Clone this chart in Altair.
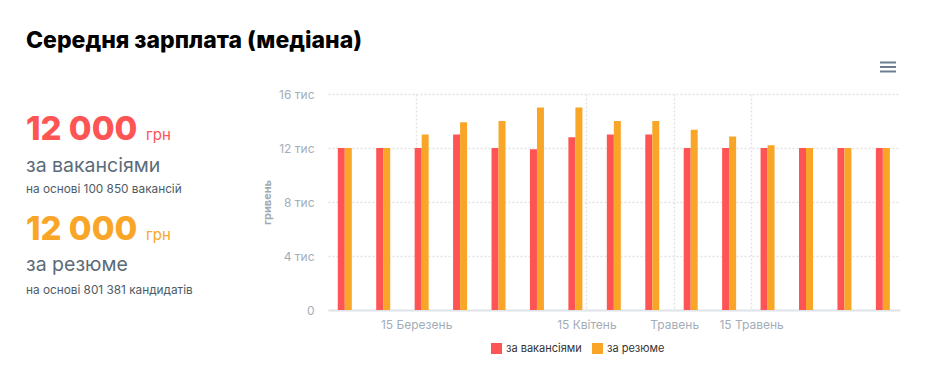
import altair as alt
import pandas as pd

# ---- data ----
weeks = ["2020-03-02", "2020-03-09", "2020-03-16", "2020-03-23", "2020-03-30",
         "2020-04-06", "2020-04-13", "2020-04-20", "2020-04-27", "2020-05-04",
         "2020-05-11", "2020-05-18", "2020-05-25", "2020-06-01", "2020-06-08"]
vacancy_values = [12000, 12000, 12000, 13000, 12000, 11900, 12800, 13000, 13000,
                  12000, 12000, 12000, 12000, 12000, 12000]
resume_values = [12000, 12000, 13000, 13900, 14000, 15000, 15000, 14000, 14000,
                 13350, 12850, 12200, 12000, 12000, 12000]
series_names = ["за вакансіями", "за резюме"]
series_colors = ["#ff5454", "#f9a628"]
tick_dates = [(2020, 3, 15), (2020, 4, 15), (2020, 5, 1), (2020, 5, 15)]
month_names = ["Січень", "Лютий", "Березень", "Квітень", "Травень", "Червень",
               "Липень", "Серпень", "Вересень", "Жовтень", "Листопад", "Грудень"]
y_ticks = [0, 4000, 8000, 12000, 16000]

title_text = "Середня зарплата (медіана)"
kpi_values = ["12 000", "12 000"]
kpi_unit = "грн"
kpi_labels = ["за вакансіями", "за резюме"]
kpi_notes = ["на основі 100 850 вакансій", "на основі 801 381 кандидатів"]

rows = []
for w, v in zip(weeks, vacancy_values):
    rows.append({"week": w + "T00:00:00", "series": series_names[0], "value": v})
for w, v in zip(weeks, resume_values):
    rows.append({"week": w + "T00:00:00", "series": series_names[1], "value": v})
df = pd.DataFrame(rows)

# ---- layout constants ----
PAD_L, PAD_T = 320, 86
FONT = "Inter"
GRID = "#e3e3e3"
AXIS_TXT = "#a3adb8"


def px(x):
    return x - 8 - PAD_L


def py(y):
    return y - 8 - PAD_T


month_arr = "[" + ",".join("'" + m + "'" for m in month_names) + "]"
label_expr = ("(date(datum.value) == 1 ? '' : date(datum.value) + ' ') + "
              + month_arr + "[month(datum.value)]")

x_enc = alt.X(
    "week:T",
    scale=alt.Scale(domain=[alt.DateTime(year=2020, month=2, date=28, hours=20, minutes=30),
                            alt.DateTime(year=2020, month=6, date=10, hours=5)]),
    axis=alt.Axis(
        values=[alt.DateTime(year=y, month=m, date=d) for (y, m, d) in tick_dates],
        labelExpr=label_expr, title=None, ticks=False,
        domainColor="#dfe4ea", domainWidth=2,
        grid=True, gridColor=GRID, gridDash=[2, 2], gridWidth=1.5,
        labelColor=AXIS_TXT, labelFont=FONT, labelFontSize=12, labelPadding=9,
        labelFlush=False, labelOverlap=False,
    ),
)
y_enc = alt.Y(
    "value:Q",
    scale=alt.Scale(domain=[0, 16000], nice=False),
    axis=alt.Axis(
        values=y_ticks,
        labelExpr="datum.value == 0 ? '0' : format(datum.value / 1000, 'd') + ' тис'",
        title="гривень", titleFont=FONT, titleFontSize=11, titleFontWeight="bold",
        titleColor="#a0aab3", titleX=-56, titleY=108, titleAngle=270,
        domain=False, ticks=False,
        grid=True, gridColor=GRID, gridDash=[2, 2], gridWidth=1.5,
        labelColor=AXIS_TXT, labelFont=FONT, labelFontSize=12, labelPadding=14,
    ),
)
color_enc = alt.Color(
    "series:N",
    scale=alt.Scale(domain=series_names, range=series_colors),
    legend=alt.Legend(
        title=None, orient="none", direction="horizontal",
        legendX=px(491), legendY=py(343),
        symbolType="square", symbolSize=121, symbolStrokeWidth=0,
        labelFont=FONT, labelFontSize=11, labelColor="#333333",
        columnPadding=10, labelOffset=4,
    ),
)

base = alt.Chart(df)
bars_a = base.transform_filter(alt.datum.series == series_names[0]).mark_bar(
    width=7, xOffset=-3.5).encode(x=x_enc, y=y_enc, color=color_enc)
bars_b = base.transform_filter(alt.datum.series == series_names[1]).mark_bar(
    width=7, xOffset=3.5).encode(x=x_enc, y=y_enc, color=color_enc)

one = alt.Data(values=[{"k": 1}])


def text_layer(text, x, y, size, color, weight="normal"):
    return alt.Chart(one).mark_text(
        align="left", baseline="alphabetic", font=FONT, fontSize=size,
        fontWeight=weight, color=color,
    ).encode(x=alt.value(px(x)), y=alt.value(py(y)), text=alt.value(text))


texts = [
    text_layer(title_text, 26, 48, 23, "#000000", 800),
    text_layer(kpi_values[0], 26, 140, 33, series_colors[0], 800),
    text_layer(kpi_unit, 146, 140, 15, series_colors[0]),
    text_layer(kpi_labels[0], 26, 172, 19.5, "#5b6b77"),
    text_layer(kpi_notes[0], 26, 193, 11.8, "#4d5b66"),
    text_layer(kpi_values[1], 26, 240, 33, series_colors[1], 800),
    text_layer(kpi_unit, 146, 240, 15, series_colors[1]),
    text_layer(kpi_labels[1], 26, 271, 19.5, "#5b6b77"),
    text_layer(kpi_notes[1], 26, 294, 11.8, "#4d5b66"),
]

menu = [
    alt.Chart(one).mark_rule(color="#6c7e8f", strokeWidth=2).encode(
        x=alt.value(px(880)), x2=alt.value(px(896)), y=alt.value(py(yy)))
    for yy in (62.5, 67, 71.5)
]

chart = alt.layer(bars_a, bars_b, *texts, *menu).properties(
    width=572, height=216,
    padding={"left": PAD_L, "top": PAD_T, "right": 21, "bottom": 57},
    autosize=alt.AutoSizeParams(type="none"),
).configure_view(stroke=None)

chart.save("out.html", embed_options={"renderer": "svg", "actions": False})
